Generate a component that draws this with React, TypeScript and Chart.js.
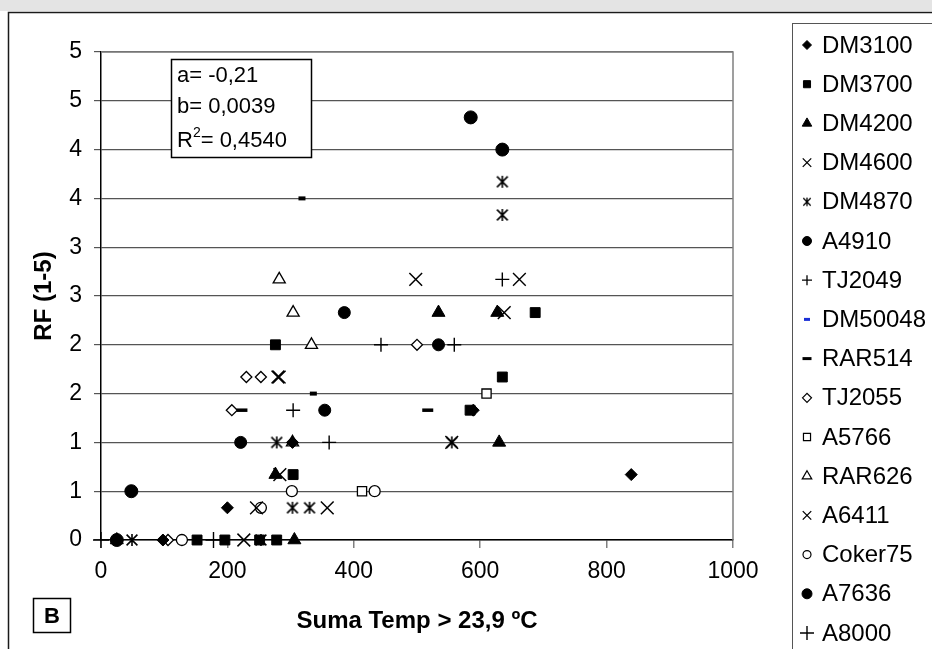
import React, { useEffect, useRef } from 'react';
import { Chart, registerables } from 'chart.js';
import { drawPoint } from 'chart.js/helpers';

Chart.register(...registerables);

// ---------- DATA ----------
const seriesNames = ['DM3100', 'DM3700', 'DM4200', 'DM4600', 'DM4870', 'A4910', 'TJ2049', 'DM50048',
  'RAR514', 'TJ2055', 'A5766', 'RAR626', 'A6411', 'Coker75', 'A7636', 'A8000'];

const DM3100 = [[98, 0], [200, 0.33], [303, 1.0], [589, 1.33], [839, 0.67]];
const DM3700 = [[152, 0], [196, 0], [251, 0], [278, 0], [304, 0.67], [276, 2.0], [584, 1.33], [635, 1.67], [687, 2.33]];
const DM4200 = [[25, 0], [306, 0], [276, 0.67], [630, 1.0], [534, 2.33], [627, 2.33]];
const DM4600 = [[226, 0], [358, 0.33], [283, 0.67], [280, 1.67], [498, 2.67], [638, 2.33]];
const DM4870 = [[49, 0], [253, 0], [303, 0.33], [330, 0.33], [278, 1.0], [555, 1.0], [635, 3.33], [635, 3.67]];
const A4910 = [[221, 1.0], [354, 1.33], [385, 2.33], [534, 2.0]];
const TJ2049 = [[443, 2.0], [559, 2.0], [304, 1.33], [361, 1.0], [635, 2.67]];
const DM50048 = [[318, 3.5], [336, 1.5]];
const RAR514 = [[223, 1.33], [517, 1.33]];
const TJ2055 = [[106, 0], [207, 1.33], [230, 1.67], [253, 1.67], [500, 2.0]];
const A5766 = [[413, 0.5], [610, 1.5]];
const RAR626 = [[282, 2.67], [304, 2.33], [333, 2.0], [303, 1.0]];
const A6411 = [[246, 0.33], [662, 2.67], [555, 1.0], [282, 1.67]];
const Coker75 = [[128, 0], [302, 0.5], [433, 0.5], [253, 0.33]];
const A7636 = [[25, 0], [48, 0.5], [585, 4.33], [635, 4.0]];
const A8000 = [[0, 0], [178, 0]];

const seriesData = [DM3100, DM3700, DM4200, DM4600, DM4870, A4910, TJ2049, DM50048,
  RAR514, TJ2055, A5766, RAR626, A6411, Coker75, A7636, A8000];

const yTickLabels = ['0', '1', '1', '2', '2', '3', '3', '4', '4', '5', '5'];
const xTickLabels = ['0', '200', '400', '600', '800', '1000'];

const annotationLines = ['a= -0,21', 'b= 0,0039', '0,4540'];
const xTitle = 'Suma Temp > 23,9 ºC';
const yTitle = 'RF (1-5)';
const panelLabel = 'B';

// ---------- STYLES ----------
const FONT = '"Liberation Sans", Arial, sans-serif';

function makeAsterisk(size: number, lw: number): HTMLCanvasElement {
  const c = document.createElement('canvas');
  c.width = size;
  c.height = size;
  const g = c.getContext('2d')!;
  g.strokeStyle = '#000';
  g.lineWidth = lw;
  const m = size / 2;
  const a = lw;
  g.beginPath();
  g.moveTo(m, a * 0.6);
  g.lineTo(m, size - a * 0.6);
  g.moveTo(a, a);
  g.lineTo(size - a, size - a);
  g.moveTo(size - a, a);
  g.lineTo(a, size - a);
  g.stroke();
  return c;
}

type Sty = { ps: any; r: number; bg: string; bc: string; bw: number; lps?: any; lr?: number; lbc?: string; lbw?: number };

function buildStyles(): Sty[] {
  const ast = makeAsterisk(14, 1.6);
  const astL = makeAsterisk(10, 1.3);
  return [
    { ps: 'rectRot', r: 6, bg: '#000', bc: '#000', bw: 1, lr: 4.5 },
    { ps: 'rect', r: 7, bg: '#000', bc: '#000', bw: 1, lr: 5 },
    { ps: 'triangle', r: 7.5, bg: '#000', bc: '#000', bw: 1, lr: 5.5 },
    { ps: 'crossRot', r: 9, bg: '#000', bc: '#000', bw: 1.5, lr: 6, lbw: 1.3 },
    { ps: ast, r: 7, bg: '#000', bc: '#000', bw: 1, lps: astL },
    { ps: 'circle', r: 6, bg: '#000', bc: '#000', bw: 1, lr: 4.5 },
    { ps: 'cross', r: 7, bg: '#000', bc: '#000', bw: 1.4, lr: 5, lbw: 1.3 },
    { ps: 'line', r: 3.5, bg: '#000', bc: '#000', bw: 4, lr: 3, lbc: '#1a2fd6', lbw: 3 },
    { ps: 'line', r: 5.5, bg: '#000', bc: '#000', bw: 3.5, lr: 4.5, lbw: 3 },
    { ps: 'rectRot', r: 5.5, bg: '#fff', bc: '#000', bw: 1.3, lr: 4.5, lbw: 1.2 },
    { ps: 'rect', r: 6.5, bg: '#fff', bc: '#000', bw: 1.3, lr: 5, lbw: 1.2 },
    { ps: 'triangle', r: 7, bg: '#fff', bc: '#000', bw: 1.3, lr: 5.5, lbw: 1.2 },
    { ps: 'crossRot', r: 9, bg: '#000', bc: '#000', bw: 1.4, lr: 6, lbw: 1.3 },
    { ps: 'circle', r: 5.5, bg: '#fff', bc: '#000', bw: 1.3, lr: 4, lbw: 1.2 },
    { ps: 'circle', r: 6.5, bg: '#000', bc: '#000', bw: 1, lr: 5 },
    { ps: 'cross', r: 8, bg: '#000', bc: '#000', bw: 1.4, lr: 7, lbw: 1.4 },
  ];
}

const extrasPlugin = {
  id: 'extras',
  beforeDraw(chart: any) {
    const ctx = chart.ctx as CanvasRenderingContext2D;
    ctx.save();
    ctx.fillStyle = '#ffffff';
    ctx.fillRect(0, 0, chart.width, chart.height);
    ctx.fillStyle = '#e4e4e4';
    ctx.fillRect(0, 0, chart.width, 11);
    ctx.strokeStyle = '#1a1a1a';
    ctx.lineWidth = 1.5;
    ctx.beginPath();
    ctx.moveTo(8.5, chart.height + 5);
    ctx.lineTo(8.5, 12.5);
    ctx.lineTo(chart.width + 5, 12.5);
    ctx.stroke();
    ctx.restore();
  },
  afterDraw(chart: any) {
    const ctx = chart.ctx as CanvasRenderingContext2D;
    const ca = chart.chartArea;
    const styles: Sty[] = chart.options.plugins.extras.styles;
    ctx.save();
    // plot area top/right border
    ctx.strokeStyle = '#808080';
    ctx.lineWidth = 1.5;
    ctx.beginPath();
    ctx.moveTo(ca.left, ca.top);
    ctx.lineTo(ca.right, ca.top);
    ctx.lineTo(ca.right, ca.bottom);
    ctx.stroke();

    // annotation box
    ctx.fillStyle = '#fff';
    ctx.fillRect(171, 59, 141, 99);
    ctx.strokeStyle = '#000';
    ctx.lineWidth = 1.5;
    ctx.strokeRect(171.5, 59.5, 140, 98);
    ctx.fillStyle = '#000';
    ctx.font = `22px ${FONT}`;
    ctx.textBaseline = 'alphabetic';
    ctx.textAlign = 'left';
    ctx.fillText(annotationLines[0], 177, 82);
    ctx.fillText(annotationLines[1], 177, 113);
    ctx.fillText('R', 177, 147);
    const rw = ctx.measureText('R').width;
    ctx.font = `14px ${FONT}`;
    ctx.fillText('2', 177 + rw, 137);
    const sw = ctx.measureText('2').width;
    ctx.font = `22px ${FONT}`;
    ctx.fillText('= ' + annotationLines[2], 177 + rw + sw, 147);

    // axis titles
    ctx.font = `bold 24px ${FONT}`;
    ctx.textAlign = 'center';
    ctx.textBaseline = 'alphabetic';
    ctx.fillText(xTitle, (ca.left + ca.right) / 2, 628);
    ctx.save();
    ctx.translate(51, (ca.top + ca.bottom) / 2);
    ctx.rotate(-Math.PI / 2);
    ctx.fillText(yTitle, 0, 0);
    ctx.restore();

    // panel label
    ctx.strokeStyle = '#000';
    ctx.lineWidth = 1.5;
    ctx.strokeRect(33.5, 598.5, 37, 34);
    ctx.font = `bold 22px ${FONT}`;
    ctx.textBaseline = 'middle';
    ctx.fillText(panelLabel, 52, 617);

    // legend
    ctx.fillStyle = '#fff';
    ctx.fillRect(792, 23, 200, 700);
    ctx.strokeStyle = '#555';
    ctx.lineWidth = 1;
    ctx.strokeRect(792.5, 23.5, 200, 700);
    ctx.font = `24px ${FONT}`;
    ctx.textAlign = 'left';
    ctx.textBaseline = 'middle';
    seriesNames.forEach((name, i) => {
      const y = 45 + i * 39.2;
      const s = styles[i];
      ctx.save();
      ctx.fillStyle = s.bg;
      ctx.strokeStyle = s.lbc || s.bc;
      ctx.lineWidth = s.lbw || s.bw;
      drawPoint(ctx, { pointStyle: s.lps || s.ps, radius: s.lr || s.r, rotation: 0, borderWidth: s.lbw || s.bw } as any, 807, y);
      ctx.restore();
      ctx.fillStyle = '#000';
      ctx.fillText(name, 822, y + 1);
    });
    ctx.restore();
  },
};

export default function App() {
  const ref = useRef<HTMLCanvasElement>(null);
  useEffect(() => {
    document.body.style.margin = '0';
    const styles = buildStyles();
    const datasets = seriesNames.map((name, i) => ({
      label: name,
      data: seriesData[i].map(([x, y]) => ({ x, y })),
      pointStyle: styles[i].ps,
      pointRadius: styles[i].r,
      pointBackgroundColor: styles[i].bg,
      pointBorderColor: styles[i].bc,
      pointBorderWidth: styles[i].bw,
      showLine: false,
      clip: false,
    }));
    const chart = new Chart(ref.current!, {
      type: 'scatter',
      data: { datasets },
      plugins: [extrasPlugin],
      options: {
        animation: false,
        responsive: false,
        devicePixelRatio: 1,
        layout: { padding: { left: 0, top: 52, right: 199, bottom: 0 } },
        plugins: {
          legend: { display: false },
          tooltip: { enabled: false },
          extras: { styles },
        } as any,
        scales: {
          x: {
            type: 'linear',
            min: 0,
            max: 1000,
            afterFit: (s: any) => { s.height = 109; },
            ticks: {
              stepSize: 200,
              color: '#000',
              font: { family: FONT, size: 23 },
              padding: 10,
              maxRotation: 0,
              callback: (_v: any, i: number) => xTickLabels[i],
            },
            grid: { drawOnChartArea: false, tickLength: 8, color: '#808080', tickColor: '#808080', lineWidth: 1.5 },
            border: { color: '#000', width: 1.5 },
          },
          y: {
            type: 'linear',
            min: 0,
            max: 5,
            afterFit: (s: any) => { s.width = 101; },
            ticks: {
              stepSize: 0.5,
              color: '#000',
              font: { family: FONT, size: 23 },
              padding: 12,
              callback: (_v: any, i: number) => yTickLabels[i],
            },
            grid: { color: '#555', tickColor: '#555', tickLength: 7, lineWidth: 1.2 },
            border: { color: '#000', width: 1.5 },
          },
        },
      } as any,
    });
    return () => chart.destroy();
  }, []);
  return (
    <div style={{ position: 'fixed', left: 0, top: 0, width: 932, height: 649, background: '#fff', overflow: 'hidden' }}>
      <canvas ref={ref} width={932} height={649} style={{ display: 'block', width: 932, height: 649 }} />
    </div>
  );
}
